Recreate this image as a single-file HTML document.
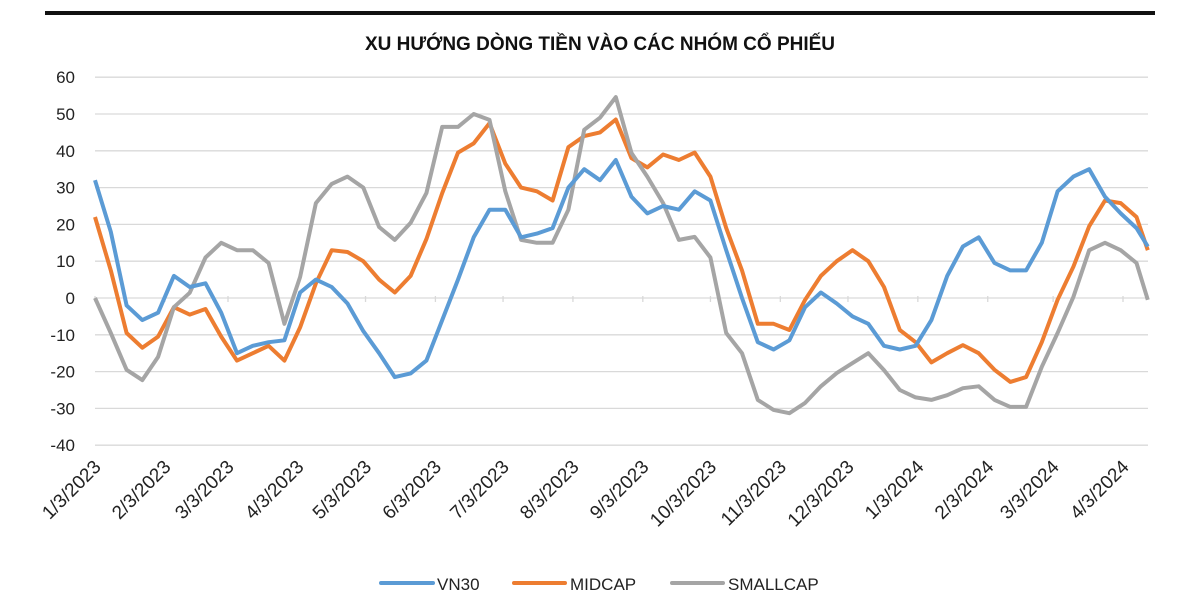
<!DOCTYPE html>
<html><head><meta charset="utf-8"><style>
body{margin:0;background:#fff;}
svg{display:block;font-family:"Liberation Sans",sans-serif;}
</style></head><body>
<svg id="chart" width="1200" height="613" viewBox="0 0 1200 613">
<rect x="45" y="11" width="1110" height="4" fill="#111"/>
<text x="600" y="50" text-anchor="middle" font-size="19" font-weight="bold" fill="#111">XU HƯỚNG DÒNG TIỀN VÀO CÁC NHÓM CỔ PHIẾU</text>
<g id="grid"></g><g id="yticks"></g><g id="xticks"></g><g id="lines"></g>
<g>
<g><line x1="381" y1="583" x2="433" y2="583" stroke="#5b9bd5" stroke-width="4" stroke-linecap="round"/><text x="437" y="590" font-size="17" fill="#222">VN30</text></g>
<g><line x1="514" y1="583" x2="565" y2="583" stroke="#ed7d31" stroke-width="4" stroke-linecap="round"/><text x="570" y="590" font-size="17" fill="#222">MIDCAP</text></g>
<g><line x1="672" y1="583" x2="723" y2="583" stroke="#a5a5a5" stroke-width="4" stroke-linecap="round"/><text x="728" y="590" font-size="17" fill="#222">SMALLCAP</text></g>
</g>
</svg>
<script>
const days = [0,7,14,21,28,35,42,49,56,63,70,77,84,91,98,105,112,119,126,133,140,147,154,161,168,175,182,189,196,203,210,217,224,231,238,245,252,259,266,273,280,287,294,301,308,315,322,329,336,343,350,357,364,371,378,385,392,399,406,413,420,427,434,441,448,455,462,467];
const vn30 = [32,18,-2,-6,-4,6,3,4,-4,-15,-13,-12,-11.5,1.5,5,3,-1.5,-9,-15,-21.5,-20.5,-17,-6,5,16.5,24,24,16.5,17.5,19,30,35,32,37.5,27.5,23,25,24,29,26.5,13,0,-12,-14,-11.5,-2.5,1.5,-1.5,-5,-7,-13,-14,-13,-6,6,14,16.5,9.5,7.5,7.5,15,29,33,35,27.5,23,19,14];
const midcap = [22,7.5,-9.5,-13.5,-10.5,-2.5,-4.5,-3,-10.5,-17,-15,-13,-17,-8,4,13,12.5,10,5,1.5,6,16,28.5,39.5,42,47.5,36.5,30,29,26.5,41,44,45,48.5,38,35.5,39,37.5,39.5,33,19,7.5,-7,-7,-8.7,-0.5,6,10,13,10,3,-8.7,-12,-17.5,-15,-12.8,-15,-19.5,-22.8,-21.5,-12,-0.5,8.5,19.5,26.5,25.8,22,13];
const smallcap = [0,-9.5,-19.5,-22.3,-16,-2.5,1.4,11,15,13,13,9.5,-7,5.7,25.8,31,33,30,19.3,15.8,20.4,28.5,46.5,46.5,50,48.4,29,15.8,15,15,24,45.7,49,54.6,39.4,33,25.8,15.8,16.6,11,-9.5,-15,-27.7,-30.4,-31.3,-28.5,-24,-20.4,-17.7,-15,-19.6,-25,-27,-27.7,-26.4,-24.5,-24,-27.7,-29.6,-29.6,-18.7,-9.5,0.3,13,15,13,9.5,-0.5];
const yTicks = [60,50,40,30,20,10,0,-10,-20,-30,-40];
const xTickLabels = ["1/3/2023","2/3/2023","3/3/2023","4/3/2023","5/3/2023","6/3/2023","7/3/2023","8/3/2023","9/3/2023","10/3/2023","11/3/2023","12/3/2023","1/3/2024","2/3/2024","3/3/2024","4/3/2024"];
const xTickDays = [0,31,59,90,120,151,181,212,243,273,304,334,365,396,425,456];

const NS="http://www.w3.org/2000/svg";
const X0=95, X1=1148, PXD=(1123-95)/456;
function xs(d){return X0+d*PXD;}
function ys(v){return 298-3.68*v;}
function mk(tag,attrs,parent){const e=document.createElementNS(NS,tag);for(const k in attrs)e.setAttribute(k,attrs[k]);parent.appendChild(e);return e;}
const grid=document.getElementById('grid'),yt=document.getElementById('yticks'),xt=document.getElementById('xticks'),lines=document.getElementById('lines');
yTicks.forEach(v=>{
  const l=mk('line',{x1:X0,x2:X1,y1:ys(v),y2:ys(v),stroke:'#d9d9d9','stroke-width':1.3},grid);
  
  
  const t=mk('text',{x:75,y:ys(v)+6,'text-anchor':'end','font-size':17,fill:'#222'},yt);
  t.textContent=v;
  
  
});
xTickLabels.forEach((s,i)=>{
  const x=xs(xTickDays[i]);
  const tk=mk('line',{x1:x,x2:x,y1:296,y2:302,stroke:'#d9d9d9','stroke-width':1.3},grid);
  
  
  const t=mk('text',{x:0,y:0,'text-anchor':'end','font-size':19,fill:'#222',transform:`translate(${x+7},${468}) rotate(-45)`},xt);
  t.textContent=s;
  
  
});
[[vn30,'#5b9bd5','vn30-line'],[midcap,'#ed7d31','midcap-line'],[smallcap,'#a5a5a5','smallcap-line']].forEach(([arr,c,n])=>{
  const pts=arr.map((v,i)=>xs(days[i]).toFixed(1)+','+ys(v).toFixed(1)).join(' ');
  const p=mk('polyline',{points:pts,fill:'none',stroke:c,'stroke-width':4,'stroke-linejoin':'round'},lines);
  
  
});
lines.appendChild(lines.children[0]);
</script>
</body></html>
